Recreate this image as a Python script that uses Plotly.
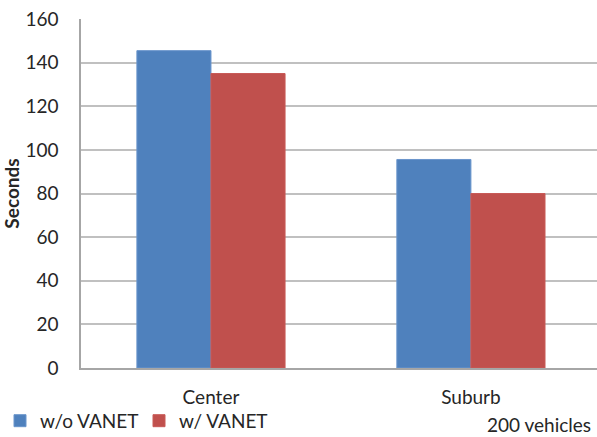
import plotly.graph_objects as go

# Travel time per area, 200 vehicles
areas = ["Center", "Suburb"]
without_vanet = [145.5, 95.6]
with_vanet = [135, 80]
y_ticks = [0, 20, 40, 60, 80, 100, 120, 140, 160]

BLUE = "#4F81BD"
RED = "#C0504D"
FONT = "Lato, Carlito, Calibri, sans-serif"
FS = 19

fig = go.Figure()
fig.add_trace(go.Bar(
    x=areas, y=without_vanet, name="w/o VANET",
    marker=dict(color=BLUE, line=dict(color="#6A95CC", width=1)),
))
fig.add_trace(go.Bar(
    x=areas, y=with_vanet, name="w/ VANET",
    marker=dict(color=RED, line=dict(color="#C85A57", width=1)),
))

fig.update_layout(
    width=597, height=437,
    margin=dict(l=81, r=0, t=19, b=69, autoexpand=False),
    paper_bgcolor="white", plot_bgcolor="white",
    font=dict(family=FONT, size=FS, color="#262626"),
    barmode="group", bargap=0.43, bargroupgap=0,
    showlegend=True,
    legend=dict(
        orientation="h", xref="container", yref="container",
        x=-0.02, y=0.037, xanchor="left", yanchor="middle",
        font=dict(size=FS), itemwidth=30, tracegroupgap=0,
        entrywidth=94,
        bgcolor="rgba(0,0,0,0)",
    ),
    annotations=[dict(
        text="200 vehicles", xref="paper", yref="paper",
        x=0.992, y=-0.163, xanchor="right", yanchor="middle",
        showarrow=False, font=dict(size=FS, color="#262626"),
    )],
)

fig.update_xaxes(
    range=[-0.5, 1.485],
    showline=True, linecolor="#a6a6a6", linewidth=1.5,
    showgrid=False, ticks="", ticklabelstandoff=11,
)
fig.update_yaxes(
    range=[0, 160], tickvals=y_ticks,
    showline=True, linecolor="#a6a6a6", linewidth=1.5,
    showgrid=True, gridcolor="#c0c0c0", gridwidth=1.5,
    zeroline=False, ticks="", ticklabelstandoff=17,
    title=dict(text="<b>Seconds</b>", standoff=13, font=dict(size=FS)),
)

fig.write_html("out.html")
